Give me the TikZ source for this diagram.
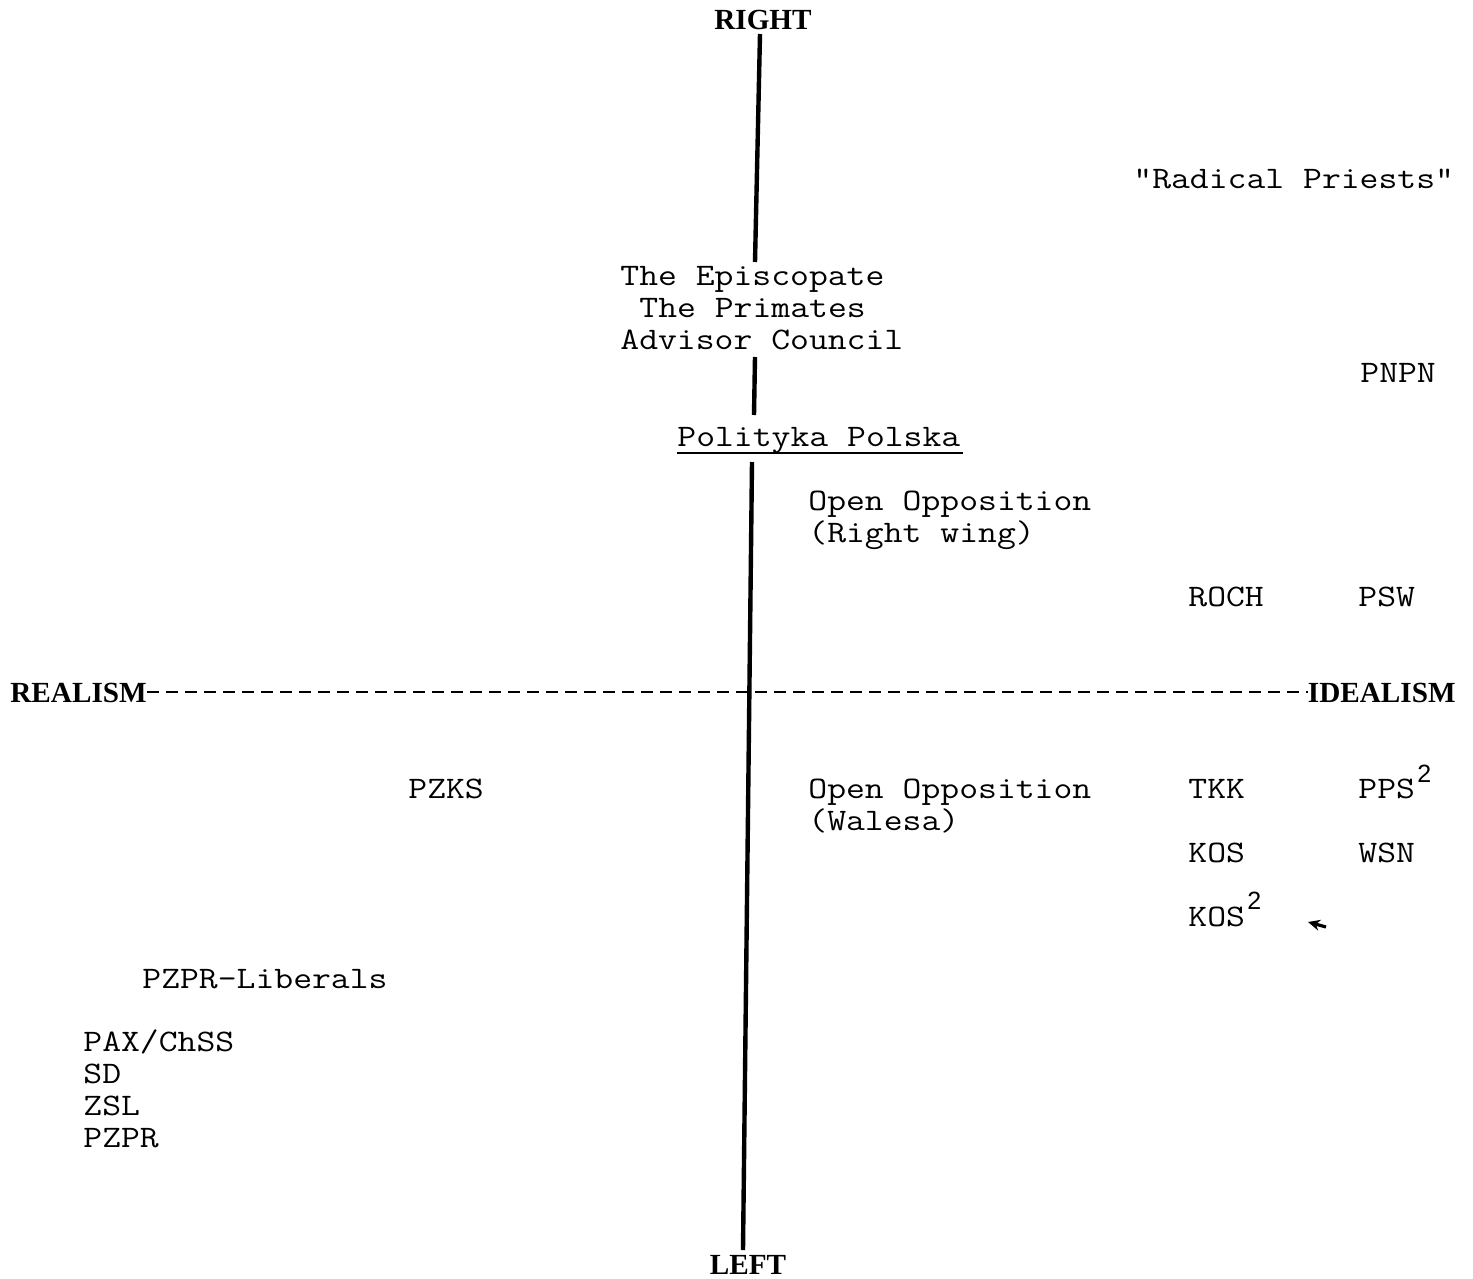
\documentclass[tikz,border=0pt]{standalone}
\usepackage{fontspec}
\setmainfont{Liberation Serif}
\newfontfamily\typew[FakeStretch=1.17]{Latin Modern Mono}
\newfontfamily\supf{Liberation Sans}
\usetikzlibrary{arrows.meta,calc}
\begin{document}
\begin{tikzpicture}[x=0.5pt,y=-0.5pt,
 lbl/.style={inner sep=0pt, anchor=base west, font=\typew\fontsize{15.65}{16}\selectfont},
 axislbl/.style={inner sep=0pt, anchor=base, font=\bfseries\fontsize{14.6}{16}\selectfont},
 suplbl/.style={inner sep=0pt, anchor=base west, font=\supf\fontsize{12.5}{14}\selectfont},
 axisline/.style={line width=2.2pt},
 dashline/.style={line width=1pt, dash pattern=on 6pt off 3.5pt},
 uline/.style={line width=0.8pt}]
\useasboundingbox (0,0) rectangle (1473,1279);

% axis labels
\node[axislbl] (right) at (763,29.5) {RIGHT};
\node[axislbl] (left) at (748,1274) {LEFT};
\node[axislbl, anchor=base west] (realism) at (10,702) {REALISM};
\node[axislbl, anchor=base east] (idealism) at (1456,702) {IDEALISM};

% vertical axis segments
\coordinate (v1a) at (760,34);
\coordinate (v1b) at (755,262);
\coordinate (v2a) at (755,357);
\coordinate (v2b) at (754,415);
\coordinate (v3a) at (752,462);
\coordinate (v3b) at (743,1250);
\draw[axisline] (v1a) -- (v1b);
\draw[axisline] (v2a) -- (v2b);
\draw[axisline] (v3a) -- (v3b);

% horizontal dashed axis
\draw[dashline] (realism.east) -- (idealism.west);

% labels
\node[lbl] (rp) at (1133,189) {"Radical Priests"};
\node[lbl] (epi) at (620,285) {The Episcopate};
\node[lbl] (pri) at (639,317) {The Primates};
\node[lbl] (adv) at (620,349) {Advisor Council};
\node[lbl] (pnpn) at (1360,382) {PNPN};
\node[lbl] (pp) at (677,446) {Polityka Polska};
\draw[uline] ($(pp.base west)+(0,7)$) -- ($(pp.base east)+(2,7)$);
\node[lbl] (oor1) at (808,510) {Open Opposition};
\node[lbl] (oor2) at (808,542) {(Right wing)};
\node[lbl] (roch) at (1188,606) {ROCH};
\node[lbl] (psw) at (1358,606) {PSW};
\node[lbl] (pzks) at (408,798) {PZKS};
\node[lbl] (oow1) at (808,798) {Open Opposition};
\node[lbl] (oow2) at (808,830) {(Walesa)};
\node[lbl] (tkk) at (1188,798) {TKK};
\node[lbl] (pps) at (1358,798) {PPS};
\node[suplbl] (pps2) at (1417,782) {2};
\node[lbl] (kos) at (1188,862) {KOS};
\node[lbl] (wsn) at (1358,862) {WSN};
\node[lbl] (kos2) at (1188,926) {KOS};
\node[suplbl] (kos2s) at (1247,909) {2};
\node[lbl] (pzprl) at (142,988) {PZPR-Liberals};
\node[lbl] (pax) at (83,1051) {PAX/ChSS};
\node[lbl] (sd) at (83,1083) {SD};
\node[lbl] (zsl) at (83,1115) {ZSL};
\node[lbl] (pzpr) at (83,1147) {PZPR};

% small stray arrow mark
\coordinate (mk1) at (1308,922);
\coordinate (mk2) at (1326,927);
\draw[line width=1.6pt, {Stealth[length=6pt,width=5.5pt]}-] (mk1) -- (mk2);
\end{tikzpicture}
\end{document}
